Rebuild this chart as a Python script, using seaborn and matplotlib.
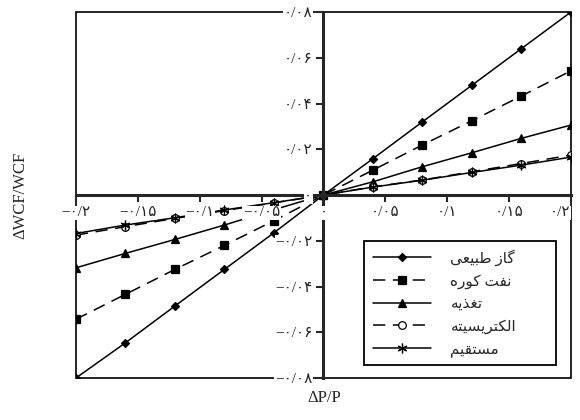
import numpy as np
import pandas as pd
import matplotlib
matplotlib.use("Agg")
import matplotlib.pyplot as plt
import seaborn as sns

# داده ها (خوانده شده از نمودار)
dp = [-0.2, -0.16, -0.12, -0.08, -0.04, 0.0, 0.04, 0.08, 0.12, 0.16, 0.2]
gas = [-0.080, -0.0646, -0.0485, -0.0325, -0.0165, 0.0, 0.0159, 0.0320, 0.0480, 0.0640, 0.080]
fuel_oil = [-0.0543, -0.0434, -0.0325, -0.0220, -0.0112, 0.0, 0.0109, 0.0219, 0.0325, 0.0433, 0.0543]
feed = [-0.0318, -0.0255, -0.0194, -0.0131, -0.0064, 0.0, 0.0058, 0.0124, 0.0185, 0.0248, 0.0306]
electricity = [-0.0175, -0.0138, -0.0102, -0.0068, -0.0034, 0.0, 0.0036, 0.0066, 0.0102, 0.0138, 0.0175]
direct = [-0.0168, -0.0131, -0.0099, -0.0065, -0.0033, 0.0, 0.0035, 0.0065, 0.0099, 0.0131, 0.0166]

labels = ["گاز طبیعی", "نفت کوره", "تغذیه", "الکتریسیته", "مستقیم"]

x_ticks = [-0.2, -0.15, -0.1, -0.05, 0.0, 0.05, 0.1, 0.15, 0.2]
x_ticklabels = ["−۰/۲", "−۰/۱۵", "−۰/۱", "−۰/۰۵", "۰", "۰/۰۵", "۰/۱", "۰/۱۵", "۰/۲"]
y_ticks = [-0.08, -0.06, -0.04, -0.02, 0.0, 0.02, 0.04, 0.06, 0.08]
y_ticklabels = ["−۰/۰۸", "−۰/۰۶", "−۰/۰۴", "−۰/۰۲", "۰", "۰/۰۲", "۰/۰۴", "۰/۰۶", "۰/۰۸"]

# matplotlib حروف فارسی را به هم نمی چسباند، پس شکل حروف را دستی انتخاب میکنیم
FORMS = {
    'ا': ('\uFE8D', '\uFE8E'), 'ز': ('\uFEAF', '\uFEB0'), 'ذ': ('\uFEAB', '\uFEAC'),
    'ر': ('\uFEAD', '\uFEAE'), 'و': ('\uFEED', '\uFEEE'),
    'گ': ('\uFB92', '\uFB93', '\uFB94', '\uFB95'), 'ط': ('\uFEC1', '\uFEC2', '\uFEC3', '\uFEC4'),
    'ب': ('\uFE8F', '\uFE90', '\uFE91', '\uFE92'), 'ی': ('\uFBFC', '\uFBFD', '\uFBFE', '\uFBFF'),
    'ع': ('\uFEC9', '\uFECA', '\uFECB', '\uFECC'), 'ن': ('\uFEE5', '\uFEE6', '\uFEE7', '\uFEE8'),
    'ف': ('\uFED1', '\uFED2', '\uFED3', '\uFED4'), 'ت': ('\uFE95', '\uFE96', '\uFE97', '\uFE98'),
    'ک': ('\uFB8E', '\uFB8F', '\uFB90', '\uFB91'), 'ه': ('\uFEE9', '\uFEEA', '\uFEEB', '\uFEEC'),
    'غ': ('\uFECD', '\uFECE', '\uFECF', '\uFED0'), 'ل': ('\uFEDD', '\uFEDE', '\uFEDF', '\uFEE0'),
    'س': ('\uFEB1', '\uFEB2', '\uFEB3', '\uFEB4'), 'م': ('\uFEE1', '\uFEE2', '\uFEE3', '\uFEE4'),
    'ق': ('\uFED5', '\uFED6', '\uFED7', '\uFED8'),
}


def shape_fa(text):
    out = []
    for i, ch in enumerate(text):
        if ch not in FORMS:
            out.append(ch)
            continue
        prev = text[i - 1] if i > 0 else ''
        nxt = text[i + 1] if i + 1 < len(text) else ''
        join_prev = prev in FORMS and len(FORMS[prev]) == 4
        join_next = nxt in FORMS and len(FORMS[ch]) == 4
        f = FORMS[ch]
        if join_prev and join_next:
            out.append(f[3])
        elif join_prev:
            out.append(f[1])
        elif join_next:
            out.append(f[2])
        else:
            out.append(f[0])
    return ''.join(reversed(out))


sns.set_style("ticks")
plt.rcParams['font.family'] = ['Liberation Serif', 'DejaVu Sans']

fig = plt.figure(figsize=(5.8, 4.2), dpi=100)
ax = fig.add_axes([0.131, 0.1, 0.853, 0.871])

series = [gas, fuel_oil, feed, electricity, direct]
markers = ['D', 's', '^', 'o', (6, 2, 0)]
styles = ['-', (0, (8, 5)), '-', (0, (8, 5)), '-']
msizes = [4.5, 5.5, 6, 5.5, 7]
for vals, mk, ls, ms, lab in zip(series, markers, styles, msizes, labels):
    face = 'white' if mk == 'o' else 'black'
    sns.lineplot(x=dp, y=vals, ax=ax, color='black', linewidth=1.1, linestyle=ls,
                 marker=mk, markersize=ms, markerfacecolor=face, markeredgecolor='black',
                 markeredgewidth=0.9, errorbar=None, label=shape_fa(lab))

ax.set_xlim(-0.2, 0.2)
ax.set_ylim(-0.08, 0.08)
ax.set_xticks(x_ticks, x_ticklabels)
ax.set_yticks(y_ticks, y_ticklabels)

# محورها در مرکز و کادر دور نمودار
ax.spines['left'].set_position(('data', 0))
ax.spines['bottom'].set_position(('data', 0))
ax.spines['left'].set_linewidth(2.2)
ax.spines['bottom'].set_linewidth(2.2)
ax.spines['top'].set_visible(False)
ax.spines['right'].set_visible(False)
ax.patch.set_edgecolor('black')
ax.patch.set_linewidth(1.2)
ax.set_axisbelow(False)
ax.tick_params(direction='out', length=5, width=1.5, labelsize=11, pad=3)
for t in ax.get_xticklabels() + ax.get_yticklabels():
    t.set_bbox(dict(facecolor='white', edgecolor='none', pad=0.3))
# آخرین برچسب محور افقی داخل تصویر بماند
ax.get_xticklabels()[-1].set_horizontalalignment('right')

fig.text(0.035, 0.536, 'ΔWCF/WCF', rotation=90, ha='center', va='center', fontsize=12)
fig.text(0.559, 0.052, 'ΔP/P', ha='center', va='center', fontsize=12)

leg = ax.legend(loc='upper left', bbox_to_anchor=(0.567, 0.033, 0.419, 0.363), mode='expand',
                fancybox=False, edgecolor='black', framealpha=1, fontsize=11,
                handlelength=3.8, handletextpad=1.3, labelspacing=0.55, borderpad=0.55)
leg.get_frame().set_linewidth(1.3)

fig.savefig('out.png', dpi=100)
